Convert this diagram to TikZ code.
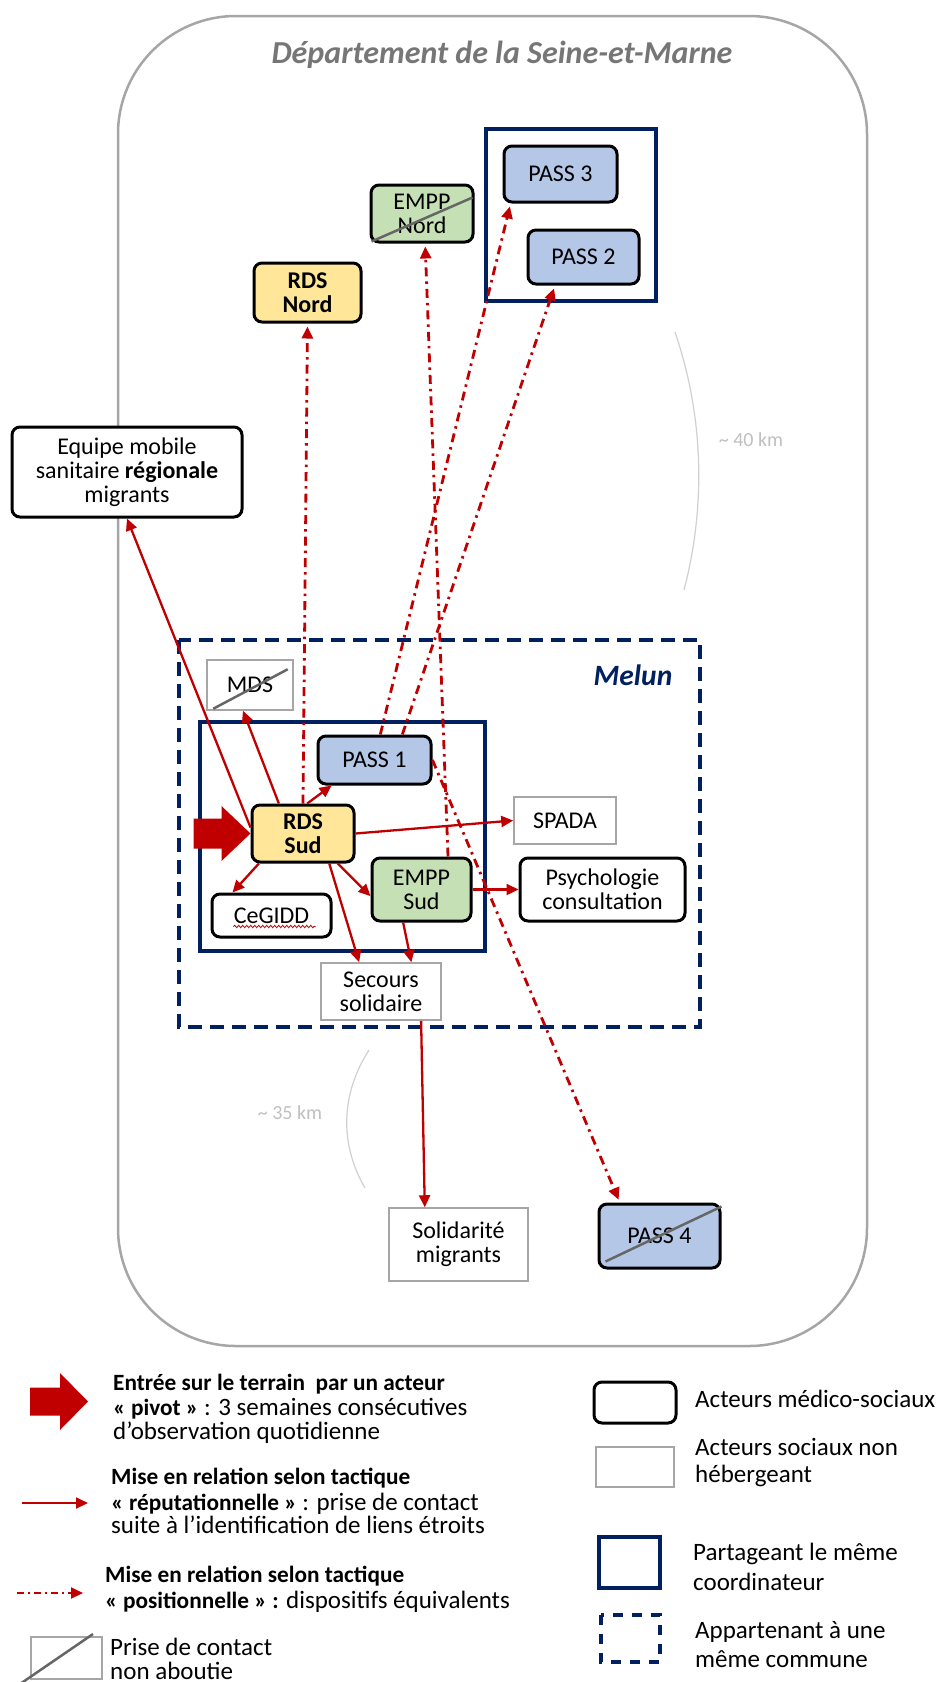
\documentclass[tikz,border=0pt]{standalone}
\usepackage{fontspec}
\setmainfont{Carlito}
\usetikzlibrary{calc,arrows.meta,decorations.pathmorphing}
\definecolor{myred}{HTML}{C00000}
\definecolor{navy}{HTML}{002060}
\definecolor{fblue}{HTML}{B4C7E7}
\definecolor{fgreen}{HTML}{C5E0B4}
\definecolor{fyellow}{HTML}{FFE699}
\definecolor{outergray}{HTML}{A6A6A6}
\definecolor{titlegray}{HTML}{767676}
\definecolor{kmgray}{HTML}{BFBFBF}
\definecolor{arcgray}{HTML}{D0D0D0}
\definecolor{strikegray}{HTML}{666666}
\newcommand{\legB}{\fontsize{23.3}{25}\selectfont\bfseries}
\newcommand{\legR}{\fontsize{25}{26}\selectfont}
\begin{document}
\begin{tikzpicture}[x=1pt,y=-1pt,
  box/.style={align=center, inner sep=0pt, font=\fontsize{24}{24}\selectfont},
  med/.style={box, draw=black, line width=3pt, rounded corners=8pt},
  soc/.style={box, draw=outergray, line width=1.5pt, fill=white},
  rep/.style={draw=myred, line width=2.3pt, -{Triangle[length=12pt,width=11pt]}},
  posarrow/.style={draw=myred, line width=2.8pt, dash pattern=on 9pt off 5pt on 2.5pt off 5pt, -{Triangle[length=12pt,width=11pt]}, shorten >=3pt},
  strike/.style={draw=strikegray, line width=2.5pt},
  coordbox/.style={draw=navy, line width=3.2pt},
  commune/.style={draw=navy, line width=3.2pt, dash pattern=on 14pt off 8pt},
  leg/.style={anchor=base west, inner sep=0pt, font=\legR},
  kmtext/.style={text=kmgray, font=\fontsize{20}{22}\selectfont},
]
\useasboundingbox (0,0) rectangle (944,1682);
% outer department
\draw[outergray, line width=2.5pt, rounded corners=118pt] (118,16) rectangle (867,1346);
\node[font=\fontsize{32}{34}\selectfont\bfseries\itshape, text=titlegray] (title) at (502,55) {Département de la Seine-et-Marne};
% Melun commune
\draw[commune] (179,640) rectangle (700,1027);
\node[font=\fontsize{29.5}{31}\selectfont\bfseries\itshape, text=navy] (melun) at (633,675) {Melun};
% coordinator boxes
\draw[coordbox] (486,129) rectangle (656,301);
\draw[coordbox] (200,722) rectangle (485,951);
% distance arcs
\draw[arcgray, line width=1.2pt] (675,332) .. controls (705,420) and (705,510) .. (684,590);
\node[kmtext] (km40) at (751,440) {\textasciitilde\ 40 km};
\draw[arcgray, line width=1.2pt] (369,1050) .. controls (340,1095) and (340,1145) .. (365,1188);
\node[kmtext] (km35) at (290,1113) {\textasciitilde\ 35 km};
% nodes
\node[med, fill=fblue, minimum width=113pt, minimum height=56pt] (pass3) at (560.5,174) {PASS 3};
\node[med, fill=fblue, minimum width=111pt, minimum height=54pt] (pass2) at (583.5,257) {PASS 2};
\node[med, fill=fgreen, minimum width=102pt, minimum height=57pt] (emppN) at (422,213.5) {EMPP\\Nord};
\node[med, fill=fyellow, minimum width=107pt, minimum height=59pt, font=\fontsize{24}{24}\selectfont\bfseries] (rdsN) at (307.5,292.5) {RDS\\Nord};
\node[med, fill=white, minimum width=230pt, minimum height=90pt] (equipe) at (127,472) {Equipe mobile\\sanitaire \textbf{régionale}\\migrants};
\node[soc, minimum width=86pt, minimum height=50pt] (mds) at (250,685) {MDS};
\node[med, fill=fblue, minimum width=113pt, minimum height=48pt] (pass1) at (374.5,760) {PASS 1};
\node[med, fill=fyellow, minimum width=102pt, minimum height=57pt, font=\fontsize{24}{24}\selectfont\bfseries] (rdsS) at (303,833.5) {RDS\\Sud};
\node[med, fill=white, minimum width=119pt, minimum height=43pt] (cegidd) at (271.5,915.5) {CeGIDD};
\node[med, fill=fgreen, minimum width=99pt, minimum height=63pt] (emppS) at (421.5,889.5) {EMPP\\Sud};
\node[soc, minimum width=102pt, minimum height=47pt] (spada) at (565,820.5) {SPADA};
\node[med, fill=white, minimum width=165pt, minimum height=63pt] (psych) at (602.5,889.5) {Psychologie\\consultation};
\node[soc, minimum width=120pt, minimum height=57pt] (secours) at (381,991.5) {Secours\\solidaire};
\node[soc, minimum width=139pt, minimum height=73pt] (solid) at (458.5,1244.5) {Solidarité\\migrants};
\node[med, fill=fblue, minimum width=121pt, minimum height=64pt] (pass4) at (659.5,1236) {PASS 4};
% strike-throughs
\draw[strike] ($(emppN.south west)+(2,-2)$) -- ($(emppN.north east)+(-2,14)$);
\draw[strike] ($(mds.south west)+(7,-2)$) -- ($(mds.north east)+(-6,10)$);
\draw[strike] ($(pass4.south west)+(8,-8)$) -- ($(pass4.north east)+(0,4)$);
% spell-check squiggle
\draw[myred, line width=0.8pt, decorate, decoration={snake, amplitude=1.2pt, segment length=4pt}] ($(cegidd.center)+(-38,11)$) -- ($(cegidd.center)+(44,11)$);
% entry arrow
\fill[myred, shift={(rdsS.west)}] (-57,-15) -- (-29,-15) -- (-29,-27.5) -- (0,0) -- (-29,27.5) -- (-29,15) -- (-57,15) -- cycle;
% reputational arrows
\draw[rep] ($(rdsS.north west)!0.4!(rdsS.south west)$) -- (equipe.south);
\draw[rep] ($(rdsS.north west)!0.27!(rdsS.north east)$) -- ($(mds.south west)!0.42!(mds.south east)$);
\draw[rep] ($(rdsS.north west)!0.54!(rdsS.north east)$) -- ($(pass1.south west)!0.13!(pass1.south east)$);
\draw[rep] (rdsS.east) -- (spada.west);
\draw[rep] ($(rdsS.south west)!0.08!(rdsS.south east)$) -- ($(cegidd.north west)!0.18!(cegidd.north east)$);
\draw[rep] ($(rdsS.south west)!0.83!(rdsS.south east)$) -- ($(emppS.north west)!0.6!(emppS.south west)$);
\draw[rep] ($(rdsS.south west)!0.75!(rdsS.south east)$) -- ($(secours.north west)!0.32!(secours.north east)$);
\draw[rep] (emppS.east) -- (psych.west);
\draw[rep] ($(emppS.south west)!0.32!(emppS.south east)$) -- ($(secours.north west)!0.75!(secours.north east)$);
\draw[rep] ($(secours.south west)!0.83!(secours.south east)$) -- ($(solid.north west)!0.26!(solid.north east)$);
% positional arrows
\draw[posarrow] (rdsS.north) -- (rdsN.south);
\draw[posarrow] ($(pass1.north west)!0.55!(pass1.north east)$) -- ($(pass3.south west)!0.07!(pass3.south east)$);
\draw[posarrow] ($(pass1.north west)!0.74!(pass1.north east)$) -- ($(pass2.south west)!0.25!(pass2.south east)$);
\draw[posarrow] ($(emppS.north west)!0.76!(emppS.north east)$) -- ($(emppN.south west)!0.53!(emppN.south east)$);
\draw[posarrow] (pass1.east) -- ($(pass4.north west)!0.18!(pass4.north east)$);
% ---------------- legend ----------------
\fill[myred] (30,1387.5) -- (60,1387.5) -- (60,1373) -- (88,1401.5) -- (60,1430) -- (60,1415.5) -- (30,1415.5) -- cycle;
\node[leg] (l1a) at (113,1390) {\legB Entrée sur le terrain\ \ par un acteur};
\node[leg] (l1b) at (113,1415) {{\legB « pivot »} : 3 semaines consécutives};
\node[leg] (l1c) at (113,1439) {d’observation quotidienne};
\coordinate (r1) at (22,1503);
\coordinate (r2) at (88,1503);
\draw[rep, line width=1.8pt] (r1) -- (r2);
\node[leg] (l2a) at (111,1484) {\legB Mise en relation selon tactique};
\node[leg] (l2b) at (111,1510) {{\legB « réputationnelle »} : prise de contact};
\node[leg] (l2c) at (111,1533) {suite à l’identification de liens étroits};
\coordinate (p1) at (17,1593);
\coordinate (p2) at (83,1593);
\draw[posarrow, line width=2pt, shorten >=0pt, dash pattern=on 7pt off 4pt on 2pt off 4pt] (p1) -- (p2);
\node[leg] (l3a) at (105,1582) {\legB Mise en relation selon tactique};
\node[leg] (l3b) at (105,1608) {{\legB « positionnelle » :} dispositifs équivalents};
\draw[outergray, line width=1.5pt] (31,1637) rectangle (102,1679);
\draw[strike] (20,1684) -- (93,1634);
\node[leg] (l4a) at (110,1655) {Prise de contact};
\node[leg] (l4b) at (110,1679) {non aboutie};
\draw[black, line width=3pt, rounded corners=8pt] (594,1382) rectangle (676,1423);
\node[leg] (l5) at (695,1407) {Acteurs médico-sociaux};
\draw[outergray, line width=1.5pt] (596,1447) rectangle (674,1487);
\node[leg] (l6a) at (695,1455) {Acteurs sociaux non};
\node[leg] (l6b) at (695,1482) {hébergeant};
\draw[coordbox] (599,1537) rectangle (660,1588);
\node[leg] (l7a) at (693,1560) {Partageant le même};
\node[leg] (l7b) at (693,1590) {coordinateur};
\draw[commune, dash pattern=on 10pt off 9pt] (601,1615) rectangle (660,1662);
\node[leg] (l8a) at (695,1638) {Appartenant à une};
\node[leg] (l8b) at (695,1667) {même commune};
\end{tikzpicture}
\end{document}
